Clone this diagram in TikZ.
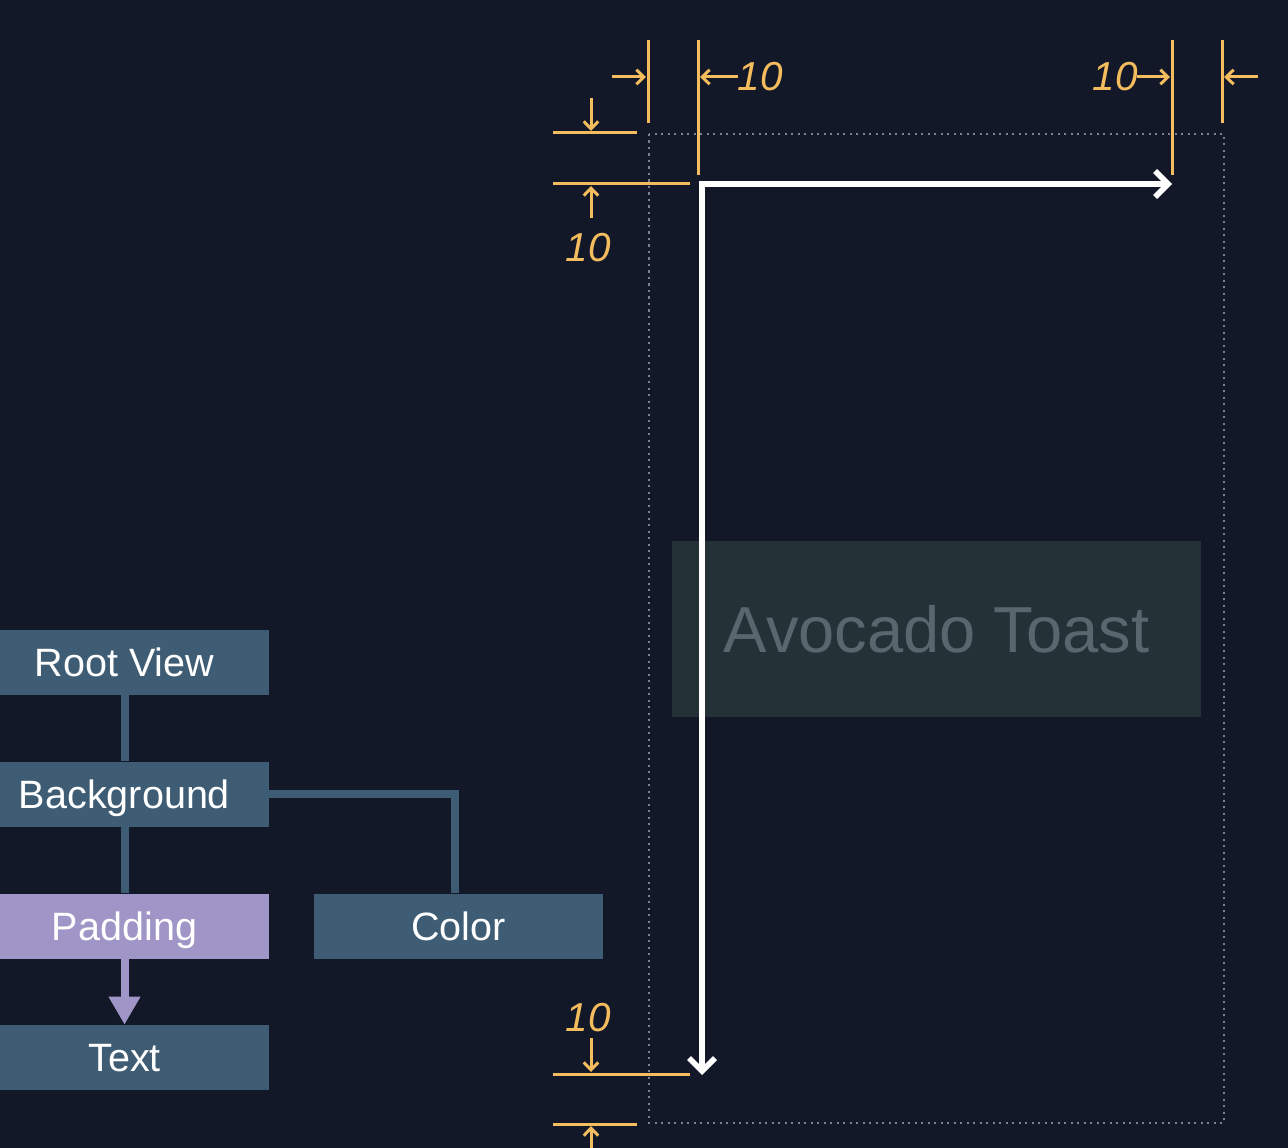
\documentclass[tikz,border=0pt]{standalone}
\usepackage{xcolor}
\usepackage{fontspec}
\setmainfont{Liberation Sans}
\usepackage{tikz}
\usetikzlibrary{arrows.meta, calc}

\definecolor{bgnavy}{HTML}{131829}
\definecolor{viewblue}{HTML}{3E5C73}
\definecolor{padpurple}{HTML}{9F95C7}
\definecolor{dimorange}{HTML}{F3BD5E}
\definecolor{toastbox}{HTML}{243238}
\definecolor{toasttext}{HTML}{5A666D}
\definecolor{framegray}{HTML}{7A8190}

\begin{document}
\begin{tikzpicture}[
        x=0.2mm, y=-0.2mm,
        view/.style={rectangle, fill=viewblue, text=white, inner sep=0pt,
            minimum width=57.8mm, minimum height=13mm, text height=16pt, text depth=0pt,
            font=\fontsize{22.5}{27}\selectfont},
        padview/.style={view, fill=padpurple},
        treeedge/.style={line width=1.6mm, viewblue},
        padedge/.style={line width=1.6mm, padpurple, -{Triangle[length=5.6mm, width=6mm]}},
        dimline/.style={line width=0.6mm, dimorange},
        dimarrow/.style={line width=0.6mm, dimorange, -{Straight Barb[length=1.5mm, width=2.9mm]}},
        dimlabel/.style={text=dimorange, inner sep=0pt, font=\fontsize{23}{27}\selectfont\itshape},
        frame/.style={line width=0.5mm, framegray, dash pattern=on 0.45mm off 0.85mm},
        flow/.style={line width=1.1mm, white, {Straight Barb[length=2.6mm, width=5.2mm]}-{Straight Barb[length=2.6mm, width=5.2mm]}},
    ]

    % === BACKGROUND / PAGE ===
    \useasboundingbox (0,0) rectangle (1288,1148);
    \clip (0,0) rectangle (1288,1148);
    \fill[bgnavy] (0,0) rectangle (1288,1148);

    % === VIEW TREE ===
    \node[view] (root) at (124.5, 662.5) {Root View};
    \node[view] (bg) at (124.5, 794) {Background};
    \node[padview] (pad) at (124.5, 926) {Padding};
    \node[view] (color) at (458.5, 926) {Color};
    \node[view] (txt) at (124.5, 1057.5) {Text};

    % Tree edges
    \draw[treeedge] (root) -- (bg);
    \draw[treeedge] (bg) -- (pad);
    \draw[treeedge] (bg.east) -| ([xshift=-0.7mm]color.north);
    \draw[padedge] (pad) -- (txt);

    % === LAYOUT FRAME ===
    \draw[frame] (649,134) rectangle (1224,1123);

    % Text view inside the frame
    \node[fill=toastbox, minimum width=105.8mm, minimum height=35.2mm, inner sep=0pt,
          text height=26.5pt, text depth=0pt,
          text=toasttext, font=\fontsize{37}{43}\selectfont] (toast) at (936.5, 629) {Avocado Toast};

    % Flow of the padded content
    \coordinate (fcorner) at (702,184);
    \coordinate (fright) at (1172,184);
    \coordinate (fdown) at (702,1075);
    \draw[flow] (fright) -- (fcorner) -- (fdown);

    % === DIMENSIONS (10 pt padding) ===
    % Extension lines
    \foreach \xa/\ya/\xb/\yb in {648/40/648/123, 698/40/698/175, 1172/40/1172/175, 1222/40/1222/123,
                                 553/133/637/133, 553/184/690/184, 553/1074/690/1074, 553/1124/637/1124}
        \draw[dimline] (\xa,\ya) -- (\xb,\yb);

    % Arrows
    \foreach \xa/\ya/\xb/\yb in {612/77/646/77, 738/77/700/77, 1137/77/1170/77, 1258/77/1224/77,
                                 591/98/591/131, 591/218/591/186, 591/1038/591/1072, 591/1150/591/1126}
        \draw[dimarrow] (\xa,\ya) -- (\xb,\yb);

    % Labels
    \node[dimlabel] (dtopl) at (760, 77) {10};
    \node[dimlabel] (dtopr) at (1115, 77) {10};
    \node[dimlabel] (dleft) at (588, 248) {10};
    \node[dimlabel] (dbottom) at (588, 1018) {10};

    \end{tikzpicture}
\end{document}
